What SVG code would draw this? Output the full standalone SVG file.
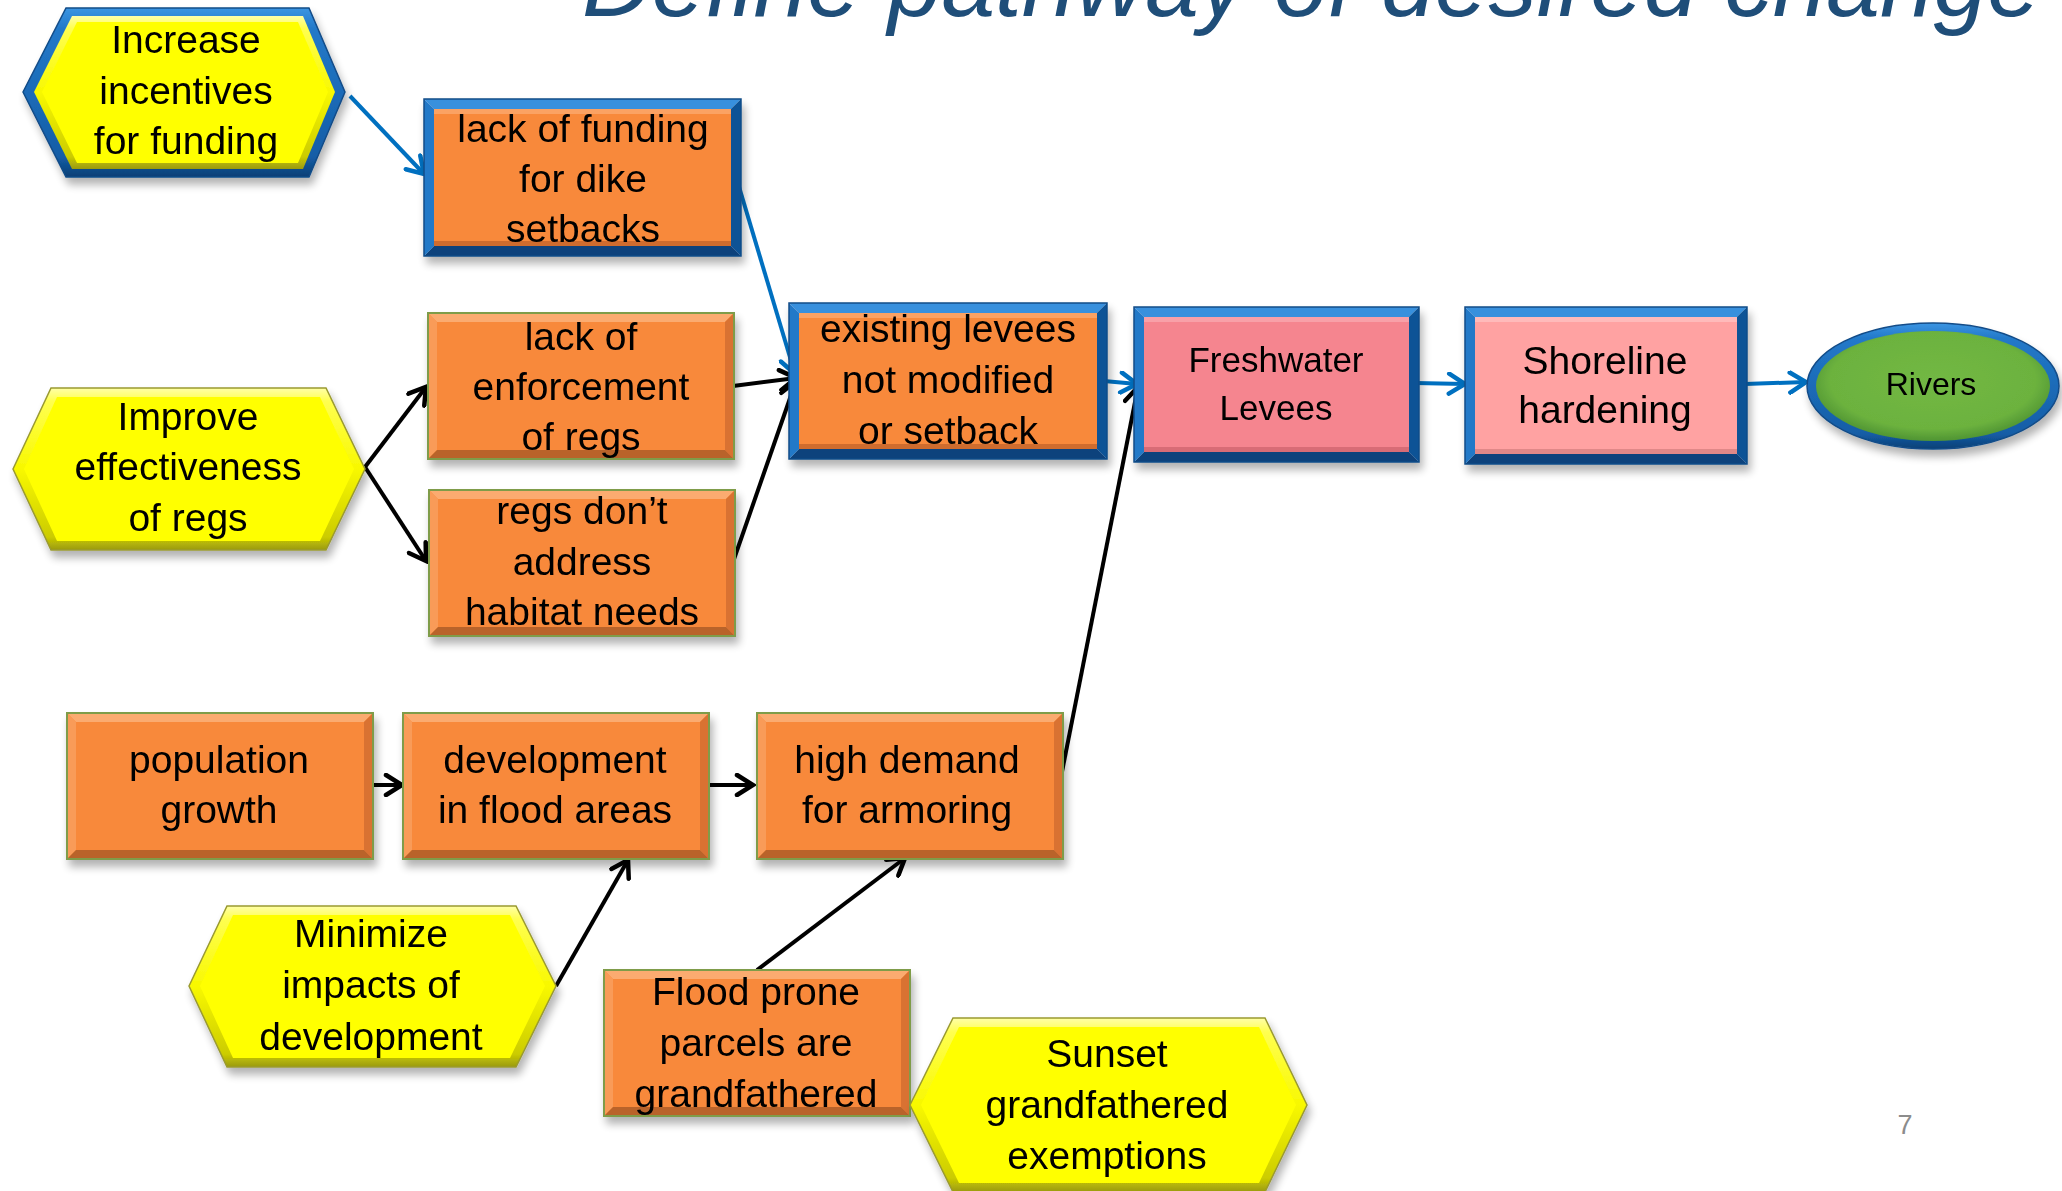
<svg xmlns="http://www.w3.org/2000/svg" xmlns:xlink="http://www.w3.org/1999/xlink" width="2062" height="1191" viewBox="0 0 2062 1191">
<style>
.t{font-family:"Liberation Sans",Arial,sans-serif;font-size:39px;fill:#000;text-anchor:middle}
.ts{font-size:35px}
.tr{font-size:32px}
.bt{fill:#3990dd}.bl{fill:#2479c8}.br{fill:#0f5296}.bb{fill:#0c437c}
.fr{fill:none;stroke:#124c88;stroke-width:1.5}
.or{fill:#f8893b}
.ye{fill:#ffff00}
.cb{fill:none;stroke:#0070c0;stroke-width:4;marker-end:url(#ab)}
.ck{fill:none;stroke:#000;stroke-width:4;marker-end:url(#ak)}
</style>
<defs>
<filter id="sh" x="-10%" y="-10%" width="130%" height="140%">
<feGaussianBlur in="SourceAlpha" stdDeviation="4"/>
<feOffset dx="3" dy="7"/>
<feComponentTransfer><feFuncA type="linear" slope="0.3"/></feComponentTransfer>
<feMerge><feMergeNode/><feMergeNode in="SourceGraphic"/></feMerge>
</filter>
<linearGradient id="gBl" x1="0" y1="0" x2="0" y2="1">
<stop offset="0" stop-color="#3b95e2"/><stop offset="0.12" stop-color="#2379c9"/><stop offset="0.88" stop-color="#145da6"/><stop offset="1" stop-color="#0b3f75"/>
</linearGradient>
<linearGradient id="gYe" x1="0" y1="0" x2="0" y2="1">
<stop offset="0" stop-color="#ffffa8"/><stop offset="0.08" stop-color="#ffff50"/><stop offset="0.5" stop-color="#f8f800"/><stop offset="0.92" stop-color="#cccc00"/><stop offset="1" stop-color="#9a9a10"/>
</linearGradient>
<radialGradient id="gGr" cx="0.5" cy="0.45" r="0.55">
<stop offset="0" stop-color="#72b844"/><stop offset="0.8" stop-color="#6cb23e"/><stop offset="1" stop-color="#4f9433"/>
</radialGradient>
<marker id="ab" markerUnits="userSpaceOnUse" viewBox="0 0 24 24" markerWidth="24" markerHeight="24" refX="21" refY="12" orient="auto">
<path d="M5,2 L21,12 L5,22" fill="none" stroke="#0070c0" stroke-width="4.5" stroke-linecap="round"/>
</marker>
<marker id="ak" markerUnits="userSpaceOnUse" viewBox="0 0 24 24" markerWidth="24" markerHeight="24" refX="21" refY="12" orient="auto">
<path d="M5,2 L21,12 L5,22" fill="none" stroke="#000" stroke-width="4.5" stroke-linecap="round"/>
</marker>
<g id="obox">
<rect width="306" height="146" class="or"/>
<polygon points="0,0 306,0 297,9 9,9" fill="#fbab70"/>
<polygon points="0,0 9,9 9,137 0,146" fill="#f99b58"/>
<polygon points="306,0 297,9 297,137 306,146" fill="#d97232"/>
<polygon points="0,146 306,146 297,137 9,137" fill="#b9642b"/>
<rect width="306" height="146" fill="none" stroke="#7f9c4a" stroke-width="2"/>
</g>
</defs>

<rect width="2062" height="1191" fill="#fff"/>

<text x="582" y="16" font-family="'Liberation Sans',Arial,sans-serif" font-style="italic" font-size="97" fill="#1f4e79" textLength="1459" lengthAdjust="spacingAndGlyphs">Define pathway of desired change</text>

<g id="connectors">
<line class="cb" x1="350" y1="96" x2="424" y2="174"/>
<line class="cb" x1="737" y1="180" x2="795" y2="374"/>
<line class="cb" x1="1104" y1="381" x2="1137" y2="384"/>
<line class="cb" x1="1415" y1="383" x2="1465" y2="384"/>
<line class="cb" x1="1745" y1="384" x2="1806" y2="382"/>
<line class="ck" x1="733" y1="386" x2="796" y2="378"/>
<line class="ck" x1="733" y1="562" x2="796" y2="381"/>
<line class="ck" x1="365" y1="467" x2="426" y2="387"/>
<line class="ck" x1="365" y1="467" x2="426" y2="561"/>
<line class="ck" x1="373" y1="785" x2="402" y2="785"/>
<line class="ck" x1="709" y1="785" x2="753" y2="785"/>
<line class="ck" x1="1059" y1="787" x2="1138" y2="387"/>
<line class="ck" x1="556" y1="986" x2="628" y2="860"/>
<line class="ck" x1="757" y1="970" x2="905" y2="858"/>
</g>

<g id="n-increase" filter="url(#sh)">
<polygon points="23,92 66,8 309,8 345,92 309,177 66,177" fill="url(#gBl)" stroke="#124c88" stroke-width="1.5"/>
<polygon points="34,92 72,16 303,16 335,92 303,169 72,169" fill="url(#gYe)"/>
<polygon points="42,92 77,22 298,22 328,92 298,163 77,163" class="ye"/>
<text class="t" x="186" y="53">Increase</text>
<text class="t" x="186" y="104">incentives</text>
<text class="t" x="186" y="154">for funding</text>
</g>

<g id="n-lackfunding" filter="url(#sh)">
<polygon class="bt" points="424,99 741,99 731,109 434,109"/>
<polygon class="bb" points="424,256 741,256 731,246 434,246"/>
<polygon class="bl" points="424,99 434,109 434,246 424,256"/>
<polygon class="br" points="741,99 731,109 731,246 741,256"/>
<rect class="or" x="434" y="109" width="297" height="137"/>
<rect x="434" y="109" width="297" height="5" fill="#fba264"/>
<rect x="434" y="241" width="297" height="5" fill="#cf6c2e"/>
<rect class="fr" x="424" y="99" width="317" height="157"/>
<text class="t" x="583" y="142">lack of funding</text>
<text class="t" x="583" y="192">for dike</text>
<text class="t" x="583" y="242">setbacks</text>
</g>

<g id="n-enforcement" filter="url(#sh)">
<use xlink:href="#obox" x="428" y="313"/>
<text class="t" x="581" y="350">lack of</text>
<text class="t" x="581" y="400">enforcement</text>
<text class="t" x="581" y="450">of regs</text>
</g>

<g id="n-regs" filter="url(#sh)">
<use xlink:href="#obox" x="429" y="490"/>
<text class="t" x="582" y="524">regs don’t</text>
<text class="t" x="582" y="575">address</text>
<text class="t" x="582" y="625">habitat needs</text>
</g>

<g id="n-existing" filter="url(#sh)">
<polygon class="bt" points="789,303 1107,303 1097,313 799,313"/>
<polygon class="bb" points="789,459 1107,459 1097,449 799,449"/>
<polygon class="bl" points="789,303 799,313 799,449 789,459"/>
<polygon class="br" points="1107,303 1097,313 1097,449 1107,459"/>
<rect class="or" x="799" y="313" width="298" height="136"/>
<rect x="799" y="313" width="298" height="5" fill="#fba264"/>
<rect x="799" y="444" width="298" height="5" fill="#cf6c2e"/>
<rect class="fr" x="789" y="303" width="318" height="156"/>
<text class="t" x="948" y="342">existing levees</text>
<text class="t" x="948" y="393">not modified</text>
<text class="t" x="948" y="444">or setback</text>
</g>

<g id="n-freshwater" filter="url(#sh)">
<polygon class="bt" points="1134,307 1419,307 1409,317 1144,317"/>
<polygon class="bb" points="1134,462 1419,462 1409,452 1144,452"/>
<polygon class="bl" points="1134,307 1144,317 1144,452 1134,462"/>
<polygon class="br" points="1419,307 1409,317 1409,452 1419,462"/>
<rect x="1144" y="317" width="265" height="135" fill="#f5858f"/>
<rect x="1144" y="317" width="265" height="5" fill="#f8a0a8"/>
<rect x="1144" y="447" width="265" height="5" fill="#d86c76"/>
<rect class="fr" x="1134" y="307" width="285" height="155"/>
<text class="t ts" x="1276" y="372">Freshwater</text>
<text class="t ts" x="1276" y="420">Levees</text>
</g>

<g id="n-shoreline" filter="url(#sh)">
<polygon class="bt" points="1465,307 1747,307 1737,317 1475,317"/>
<polygon class="bb" points="1465,464 1747,464 1737,454 1475,454"/>
<polygon class="bl" points="1465,307 1475,317 1475,454 1465,464"/>
<polygon class="br" points="1747,307 1737,317 1737,454 1747,464"/>
<rect x="1475" y="317" width="262" height="137" fill="#ffa2a2"/>
<rect x="1475" y="317" width="262" height="5" fill="#ffbaba"/>
<rect x="1475" y="449" width="262" height="5" fill="#e08888"/>
<rect class="fr" x="1465" y="307" width="282" height="157"/>
<text class="t" x="1605" y="374">Shoreline</text>
<text class="t" x="1605" y="423">hardening</text>
</g>

<g id="n-rivers" filter="url(#sh)">
<ellipse cx="1933" cy="386" rx="126" ry="63" fill="url(#gBl)" stroke="#124c88" stroke-width="1.5"/>
<ellipse cx="1933" cy="386" rx="117" ry="55" fill="url(#gGr)"/>
<text class="t tr" x="1931" y="395">Rivers</text>
</g>

<g id="n-improve" filter="url(#sh)">
<polygon points="13,469 51,388 326,388 365,469 326,550 51,550" fill="url(#gYe)" stroke="#9a9a30" stroke-width="1.5"/>
<polygon points="24,469 57,397 320,397 354,469 320,541 57,541" class="ye"/>
<text class="t" x="188" y="430">Improve</text>
<text class="t" x="188" y="480">effectiveness</text>
<text class="t" x="188" y="531">of regs</text>
</g>

<g id="n-population" filter="url(#sh)">
<use xlink:href="#obox" x="67" y="713"/>
<text class="t" x="219" y="773">population</text>
<text class="t" x="219" y="823">growth</text>
</g>

<g id="n-development" filter="url(#sh)">
<use xlink:href="#obox" x="403" y="713"/>
<text class="t" x="555" y="773">development</text>
<text class="t" x="555" y="823">in flood areas</text>
</g>

<g id="n-demand" filter="url(#sh)">
<use xlink:href="#obox" x="757" y="713"/>
<text class="t" x="907" y="773">high demand</text>
<text class="t" x="907" y="823">for armoring</text>
</g>

<g id="n-minimize" filter="url(#sh)">
<polygon points="189,986 227,906 516,906 556,986 516,1067 227,1067" fill="url(#gYe)" stroke="#9a9a30" stroke-width="1.5"/>
<polygon points="200,986 233,915 510,915 545,986 510,1058 233,1058" class="ye"/>
<text class="t" x="371" y="947">Minimize</text>
<text class="t" x="371" y="998">impacts of</text>
<text class="t" x="371" y="1050">development</text>
</g>

<g id="n-flood" filter="url(#sh)">
<use xlink:href="#obox" x="604" y="970"/>
<text class="t" x="756" y="1005">Flood prone</text>
<text class="t" x="756" y="1056">parcels are</text>
<text class="t" x="756" y="1107">grandfathered</text>
</g>

<g id="n-sunset" filter="url(#sh)">
<polygon points="910,1105 953,1018 1265,1018 1307,1105 1265,1192 953,1192" fill="url(#gYe)" stroke="#9a9a30" stroke-width="1.5"/>
<polygon points="921,1105 959,1027 1259,1027 1296,1105 1259,1183 959,1183" class="ye"/>
<text class="t" x="1107" y="1067">Sunset</text>
<text class="t" x="1107" y="1118">grandfathered</text>
<text class="t" x="1107" y="1169">exemptions</text>
</g>

<text x="1905" y="1134" font-family="'Liberation Sans',Arial,sans-serif" font-size="27" fill="#8c8c8c" text-anchor="middle">7</text>
</svg>
